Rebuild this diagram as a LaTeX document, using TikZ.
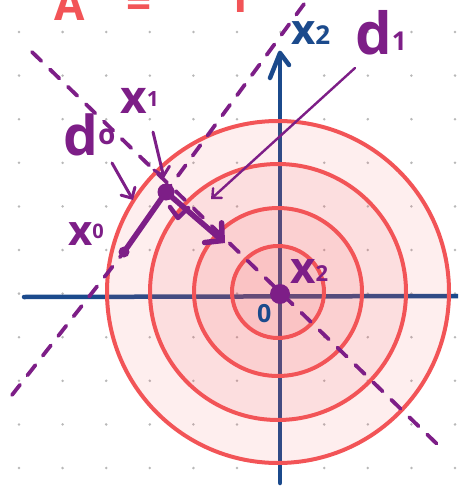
\documentclass[tikz,border=0pt]{standalone}
\usepackage{fontspec}
\setmainfont{Open Sans}
\usetikzlibrary{arrows.meta}
\definecolor{ringred}{HTML}{F25457}
\definecolor{pur}{HTML}{7D1E87}
\definecolor{navy}{HTML}{1B4A8C}
\definecolor{dotg}{HTML}{B8B8B8}
\newcommand{\hwl}[5]{{\fontsize{#1}{#1}\selectfont #2}\raisebox{#5pt}{\fontsize{#3}{#3}\selectfont #4}}
\begin{document}
\begin{tikzpicture}[x=1pt,y=-1pt,
  ringfill/.style={fill=ringred,fill opacity=0.1,draw=none},
  ring/.style={draw=ringred,line width=4pt},
  dashl/.style={draw=pur,line width=3.8pt,dash pattern=on 13pt off 12pt,line cap=round},
  ptr/.style={draw=pur,line width=3pt,line cap=round,line join=round,-{Straight Barb[length=8pt,width=16pt,line cap=round]}},
  axis/.style={draw=navy,line width=4.5pt,line cap=round,line join=round},
  lab/.style={text=pur,inner sep=0pt,anchor=base west,font=\bfseries},
  blab/.style={text=navy,inner sep=0pt,anchor=base west,font=\bfseries},
  redtxt/.style={text=ringred,inner sep=0pt,anchor=base,font=\bfseries\fontsize{44}{44}\selectfont},
  gdot/.style={fill=dotg,draw=none}]
\useasboundingbox (0,0) rectangle (458,487);
\begin{scope}
\clip (0,0) rectangle (458,487);
% top red text (cut off as in the reference)
\node[redtxt] (tA) at (70,21) {A};
\node[redtxt] (tEq) at (139,19) {=};
\node[redtxt] (tI) at (241,13) {I};
% dot grid
\foreach \i in {0,...,10}{
  \foreach \j in {0,...,10}{
    \fill[gdot] ({19+43.6*\i},{32+43.6*\j}) circle (1.4);
  }
}
% axes
\coordinate (hL) at (24,297);
\coordinate (hR) at (460,296);
\coordinate (vB) at (280,483);
\coordinate (vT) at (280,53);
\draw[axis] (hL) -- (hR);
\draw[axis] (vB) -- (vT);
\draw[axis] (270,78) -- (vT) -- (289,65);
% level sets
\coordinate (C) at (278,292);
\fill[ringfill] (C) circle (171);
\fill[ringfill] (C) circle (128);
\fill[ringfill] (C) circle (84);
\fill[ringfill] (C) circle (46);
\draw[ring] (C) circle (171);
\draw[ring] (C) circle (128);
\draw[ring] (C) circle (84);
\draw[ring] (C) circle (46);
% points
\node[circle,fill=pur,minimum size=20pt,inner sep=0pt] (O) at (280,294) {};
\node[circle,fill=pur,minimum size=11pt,inner sep=0pt] (x0) at (124,252) {};
\node[circle,fill=pur,minimum size=17pt,inner sep=0pt] (x1) at (166,192) {};
% dashed lines
\coordinate (a1) at (32,52);
\coordinate (a2) at (437,444);
\draw[dashl] (a1) -- (a2);
\coordinate (b1) at (12,395);
\coordinate (b2) at (307,0);
\draw[dashl] (b1) -- (x0.center) -- (x1.center) -- (b2);
% steps
\draw[pur,line width=5.5pt,line cap=round] (x0.center) -- (x1.center);
\coordinate (s1) at (225,243);
\draw[pur,line width=5.5pt,line cap=round,line join=round,-{Straight Barb[length=12pt,width=26pt,line cap=round]}] (x1.center) -- (s1);
\draw[pur,line width=4.5pt,line cap=round,line join=round] (170,207) -- (178,218) -- (188,208);
% labels
\node[blab] (lx2) at (291,45) {\hwl{42}{x}{26}{2}{0}};
\node[lab] (ld1) at (355,55) {\hwl{58}{d}{26}{1}{4}};
\node[lab] (lx1) at (120,113) {\hwl{46}{x}{21}{1}{7}};
\node[lab] (ld0) at (63,155) {\hwl{55}{d}{28}{o}{11}};
\node[lab] (lx0) at (68,245) {\hwl{42}{x}{20}{0}{7}};
\node[lab] (lxs) at (290,283) {\hwl{44}{x}{22}{2}{2}};
\node[blab] (l0) at (257,322) {\fontsize{25}{25}\selectfont 0};
% pointers
\coordinate (p0s) at (112,163);
\coordinate (p0e) at (133,200);
\draw[ptr] (p0s) -- (p0e);
\coordinate (p1s) at (153,132);
\coordinate (p1e) at (164,178);
\draw[ptr] (p1s) -- (p1e);
\coordinate (p2s) at (355,68);
\coordinate (p2e) at (211,199);
\draw[draw=pur,line width=2.4pt,line cap=round,-{Straight Barb[length=7pt,width=13pt,line cap=round]}] (p2s) -- (p2e);
\end{scope}
\end{tikzpicture}
\end{document}
